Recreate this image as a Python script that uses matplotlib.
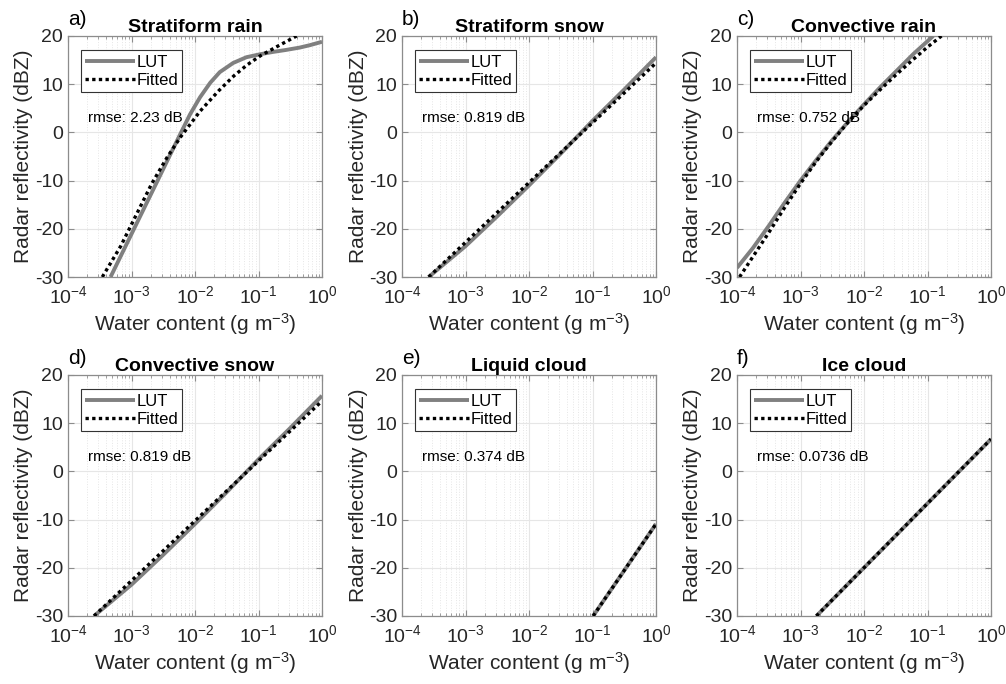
import matplotlib
matplotlib.use("Agg")
import matplotlib.pyplot as plt
import matplotlib.ticker as mticker
import numpy as np

plt.rcParams['font.family'] = ['Liberation Sans', 'DejaVu Sans']
plt.rcParams['mathtext.fontset'] = 'custom'
plt.rcParams['mathtext.rm'] = 'Liberation Sans'
plt.rcParams['mathtext.default'] = 'regular'
plt.rcParams['axes.unicode_minus'] = False

# values: log10(water content), reflectivity (dBZ)
titles = ['Stratiform rain', 'Stratiform snow', 'Convective rain',
          'Convective snow', 'Liquid cloud', 'Ice cloud']
letters = ['a)', 'b)', 'c)', 'd)', 'e)', 'f)']
rmse = ['2.23', '0.819', '0.752', '0.819', '0.374', '0.0736']

lut_a_x = [-3.33, -2.96, -2.60, -2.39, -2.23, -2.08, -1.92, -1.76, -1.61, -1.40,
           -1.19, -0.98, -0.77, -0.57, -0.35, -0.19, 0.0]
lut_a_y = [-30, -20.0, -10.3, -4.6, -0.3, 3.7, 7.3, 10.3, 12.5, 14.4,
           15.6, 16.2, 16.7, 17.1, 17.6, 18.1, 18.8]
fit_a_x = [-3.46, -3.17, -2.91, -2.68, -2.44, -2.23, -1.92, -1.63, -1.39, -1.18,
           -0.97, -0.71, -0.40]
fit_a_y = [-30, -23.6, -16.7, -10.6, -5.2, -1.0, 4.4, 8.6, 11.7, 14.0,
           15.9, 17.8, 20.0]

lut_b_x = [-3.58, -3.0, -2.5, -2.0, -1.5, -1.0, -0.5, 0.0]
lut_b_y = [-30, -23.6, -17.4, -11.0, -4.4, 2.4, 8.9, 15.6]
fit_b_x = [-3.58, 0.0]
fit_b_y = [-30, 14.4]

lut_c_x = [-4.0, -3.75, -3.5, -3.25, -3.0, -2.75, -2.5, -2.25, -2.0, -1.75,
           -1.5, -1.22, -0.91]
lut_c_y = [-28.1, -24.0, -19.4, -14.6, -10.0, -5.7, -1.6, 2.2, 5.8, 9.3,
           12.6, 16.3, 20.0]
fit_c_x = [-3.96, -3.75, -3.5, -3.25, -3.0, -2.75, -2.5, -2.25, -2.0, -1.75,
           -1.5, -1.22, -1.0, -0.78]
fit_c_y = [-30, -25.8, -20.8, -15.6, -10.6, -6.0, -1.8, 2.1, 5.6, 8.8,
           11.9, 15.2, 17.7, 20.0]

lut_d_x = [-3.59, -3.0, -2.5, -2.0, -1.5, -1.0, -0.5, 0.0]
lut_d_y = [-30, -23.5, -17.3, -10.9, -4.3, 2.5, 9.0, 15.7]
fit_d_x = [-3.59, 0.0]
fit_d_y = [-30, 14.6]

lut_e_x = [-0.99, 0.0]
lut_e_y = [-30, -10.9]
fit_e_x = [-0.99, 0.0]
fit_e_y = [-30, -10.9]

lut_f_x = [-2.75, 0.0]
lut_f_y = [-30, 6.7]
fit_f_x = [-2.75, 0.0]
fit_f_y = [-30, 6.7]

luts = [(lut_a_x, lut_a_y), (lut_b_x, lut_b_y), (lut_c_x, lut_c_y),
        (lut_d_x, lut_d_y), (lut_e_x, lut_e_y), (lut_f_x, lut_f_y)]
fits = [(fit_a_x, fit_a_y), (fit_b_x, fit_b_y), (fit_c_x, fit_c_y),
        (fit_d_x, fit_d_y), (fit_e_x, fit_e_y), (fit_f_x, fit_f_y)]

W, H = 1006, 684
fig = plt.figure(figsize=(W / 100, H / 100), dpi=100)
lefts = [68, 402, 737]
tops = [36, 375]
aw, ah = 254, 241

txt = '#262626'
for i in range(6):
    r, c = divmod(i, 3)
    ax = fig.add_axes([lefts[c] / W, 1 - (tops[r] + ah) / H, aw / W, ah / H])
    lx, ly = luts[i]
    fx, fy = fits[i]
    ax.plot(10 ** np.array(lx), ly, color='#808080', lw=2.8, label='LUT',
            solid_capstyle='butt', solid_joinstyle='round', zorder=3)
    ax.plot(10 ** np.array(fx), fy, color='black', lw=2.4, ls=(0, (1, 1)),
            label='Fitted', zorder=4)
    ax.set_xscale('log')
    ax.set_xlim(1e-4, 1)
    ax.set_ylim(-30, 20)
    ax.set_yticks([-30, -20, -10, 0, 10, 20])
    ax.set_xticks([1e-4, 1e-3, 1e-2, 1e-1, 1])
    ax.xaxis.set_major_formatter(mticker.LogFormatterMathtext())
    ax.grid(True, which='major', color='#e6e6e6', lw=0.8)
    ax.grid(True, which='minor', axis='x', color='#e6e6e6', lw=0.7, ls=':')
    ax.set_axisbelow(True)
    for s in ax.spines.values():
        s.set_color('#8c8c8c')
        s.set_linewidth(0.9)
    ax.tick_params(which='both', direction='in', top=True, right=True,
                   colors='#8c8c8c', labelcolor=txt, labelsize=14)
    ax.tick_params(which='major', length=4)
    ax.tick_params(which='minor', length=2)
    ax.tick_params(axis='x', which='major', pad=6)
    ax.set_xlabel('Water content (g m$^{-3}$)', fontsize=15, color=txt, labelpad=3)
    ax.set_ylabel('Radar reflectivity (dBZ)', fontsize=15, color=txt, labelpad=1)
    ax.set_title(titles[i], fontsize=14, fontweight='bold', pad=3)
    ax.text(0.0, 1.03, letters[i], transform=ax.transAxes, fontsize=15,
            ha='left', va='bottom', color='black')
    ax.text(0.08, 0.66, 'rmse: ' + rmse[i] + ' dB', transform=ax.transAxes,
            fontsize=11, ha='left', va='center', color='black')
    leg = ax.legend(loc='upper left', bbox_to_anchor=(0.05, 0.94), fontsize=12,
                    handlelength=3.0, handletextpad=0.1, borderpad=0.25,
                    labelspacing=0.2, fancybox=False, framealpha=1,
                    borderaxespad=0)
    leg.get_frame().set_edgecolor('#333333')
    leg.get_frame().set_linewidth(0.8)

fig.savefig('out.png', dpi=100)
